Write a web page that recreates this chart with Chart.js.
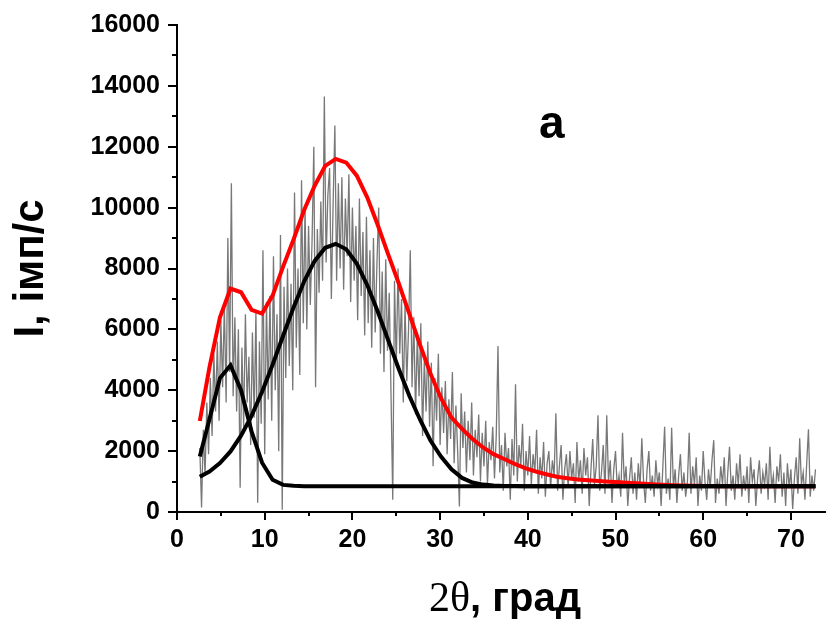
<!DOCTYPE html>
<html>
<head>
<meta charset="utf-8">
<title>XRD 2θ</title>
<script src="https://cdn.jsdelivr.net/npm/chart.js@4.4.1/dist/chart.umd.min.js"></script>
<style>
  html, body { margin: 0; padding: 0; background: #fff; }
  #wrap { position: relative; width: 826px; height: 626px; }
  #xTitle { position: absolute; left: 505px; top: 576px; transform: translateX(-50%); white-space: nowrap; line-height: 42px; color: #000; }
  #xTitle .th { font-family: "Liberation Serif", "Times New Roman", serif; font-size: 42px; }
  #xTitle .gr { font-family: "Liberation Sans", Arial, sans-serif; font-weight: bold; font-size: 40px; }
  #panel { position: absolute; left: 539px; top: 99px; font-family: "Liberation Sans", Arial, sans-serif; font-weight: bold; font-size: 46px; line-height: 46px; color: #000; }
</style>
</head>
<body>
<div id="wrap">
  <canvas id="xrd" width="826" height="626"></canvas>
  <div id="xTitle"><span class="th">2θ</span><span class="gr">, град</span></div>
  <div id="panel">a</div>
</div>
<script>
// === Data ===
// measured pattern, sampled every 0.2° starting at 2.6°
const rawStart = 2.6;
const rawStep = 0.2;
const rawCounts = [
  2100, 150, 2700, 1200, 3600, 1900, 4400, 2500, 5200, 3300,
  5600, 3000, 6300, 4100, 6800, 3600, 9000, 4600, 10800, 3800,
  6400, 3300, 6000, 800, 5400, 2800, 6500, 3600, 5100, 2200,
  5900, 3100, 6600, 300, 5600, 2900, 8600, 1900, 6900, 3700,
  7100, 3000, 8400, 4000, 6500, 2000, 9100, 70, 7400, 4400,
  8000, 4800, 7500, 4000, 10500, 5400, 8000, 4500, 10900, 6200,
  10000, 6000, 9400, 6800, 8900, 12000, 4100, 9300, 7200, 10200,
  7600, 13650, 8200, 10400, 11300, 7000, 10100, 12700, 7600, 10800,
  8000, 11000, 7300, 10300, 8400, 11100, 6900, 10000, 7600, 9400,
  6300, 10300, 7100, 9200, 5800, 9700, 6200, 8600, 5400, 9000,
  5900, 8200, 10000, 5200, 7900, 4600, 8300, 5300, 7200, 3900,
  400, 7600, 4800, 8000, 5200, 7000, 3600, 6800, 4300, 6000,
  8600, 4100, 6400, 3200, 5800, 3800, 6200, 2500, 5000, 3300,
  5600, 2800, 4900, 1500, 4400, 3000, 5200, 2200, 4100, 2600,
  4300, 1900, 3700, 2400, 4600, 1600, 3500, 2000, 180, 3900,
  2100, 3300, 1300, 3000, 1700, 3600, 1200, 2700, 1800, 3200,
  1000, 2600, 1500, 3000, 900, 2300, 1700, 2800, 1100, 2500,
  5450, 1300, 2200, 700, 2600, 1500, 2100, 400, 2400, 1200,
  4200, 1000, 2200, 1500, 2900, 700, 2000, 1200, 2500, 900,
  1900, 1300, 2700, 600, 1800, 1100, 2300, 500, 1600, 2000,
  800, 1700, 1200, 3240, 700, 1500, 2200, 400, 1400, 1900,
  800, 2000, 1100, 1600, 300, 2300, 1000, 1700, 600, 2100,
  1200, 1800, 200, 1400, 2400, 900, 1500, 3180, 700, 1300,
  2200, 600, 3180, 1000, 1700, 300, 1400, 2000, 800, 1200,
  500, 2600, 900, 1500, 200, 1100, 1800, 600, 1300, 400,
  1600, 800, 2420, 1000, 300, 1400, 2000, 700, 1200, 500,
  1700, 900, 1300, 200, 1500, 2800, 600, 1100, 400, 2770,
  800, 1400, 300, 1200, 1900, 700, 1300, 500, 1000, 2600,
  600, 1500, 900, 1800, 200, 1200, 700, 2000, 1000, 400,
  1400, 800, 1700, 2360, 300, 1100, 600, 1500, 900, 1800,
  200, 1300, 2140, 700, 1200, 400, 1600, 900, 1900, 500,
  1200, 700, 1500, 300, 1800, 1000, 1400, 200, 1100, 1700,
  600, 1300, 900, 1600, 400, 2140, 800, 1200, 300, 1500,
  1000, 1900, 500, 1300, 200, 1600, 800, 1400, 100, 1100,
  1800, 600, 2420, 900, 1300, 400, 1600, 2720, 500, 1200,
  700, 1400
];

// fit curves, evaluated on a coarse grid
const fitAngles = [
  2.6, 3.7, 4.9, 6.1, 7.3, 8.5, 9.7, 10.9, 12.1, 13.3,
  14.5, 15.7, 16.9, 18.1, 19.3, 20.5, 21.7, 22.9, 24.1, 25.3,
  26.5, 27.7, 28.9, 30.1, 31.3, 32.5, 33.7, 34.9, 36.1, 37.3,
  38.5, 39.7, 40.9, 42.1, 43.3, 44.5, 45.7, 46.9, 48.1, 49.3,
  50.5, 51.7, 52.9, 54.1, 55.3, 56.5, 57.7, 58.9, 60.1, 62.5,
  64.9, 67.3, 69.7, 72.1, 72.8
];
const fitTotal = [
  2990, 4750, 6400, 7340, 7220, 6640, 6520, 7110, 8060, 8960,
  9920, 10720, 11370, 11600, 11480, 11050, 10330, 9420, 8450, 7500,
  6500, 5500, 4550, 3740, 3100, 2730, 2400, 2120, 1900, 1740,
  1580, 1440, 1330, 1240, 1160, 1110, 1070, 1040, 1015, 995,
  975, 955, 935, 915, 895, 880, 868, 860, 854, 850,
  850, 850, 850, 850, 850
];
const fitPeak1 = [
  1820, 3050, 4400, 4820, 4000, 2650, 1620, 1060, 890, 860,
  850, 850, 850, 850, 850, 850, 850, 850, 850, 850,
  850, 850, 850, 850, 850, 850, 850, 850, 850, 850,
  850, 850, 850, 850, 850, 850, 850, 850, 850, 850,
  850, 850, 850, 850, 850, 850, 850, 850, 850, 850,
  850, 850, 850, 850, 850
];
const fitPeak2 = [
  1160, 1330, 1610, 1990, 2510, 3160, 3950, 4840, 5790, 6730,
  7580, 8250, 8680, 8810, 8630, 8160, 7450, 6580, 5630, 4690,
  3810, 3040, 2350, 1820, 1400, 1120, 970, 900, 870, 858,
  852, 850, 850, 850, 850, 850, 850, 850, 850, 850,
  850, 850, 850, 850, 850, 850, 850, 850, 850, 850,
  850, 850, 850, 850, 850
];

// axes
const xMajorTicks = [0, 10, 20, 30, 40, 50, 60, 70];
const xMinorTicks = [5, 15, 25, 35, 45, 55, 65];
const yMajorTicks = [0, 2000, 4000, 6000, 8000, 10000, 12000, 14000, 16000];
const yMinorTicks = [1000, 3000, 5000, 7000, 9000, 11000, 13000, 15000];

// === Helpers ===
function pairs(xs, ys) {
  return ys.map((y, i) => ({ x: xs[i], y }));
}
const rawAngles = rawCounts.map((_, i) => +(rawStart + i * rawStep).toFixed(1));

// === Tick marks (major + minor, outside) ===
const tickMarks = {
  id: "tickMarks",
  afterDraw(chart) {
    const { ctx, chartArea, scales: { x, y } } = chart;
    ctx.save();
    ctx.strokeStyle = "#000";
    ctx.lineWidth = 2;
    ctx.beginPath();
    const xTick = (v, len) => {
      const px = Math.round(x.getPixelForValue(v));
      ctx.moveTo(px, chartArea.bottom);
      ctx.lineTo(px, chartArea.bottom + len);
    };
    const yTick = (v, len) => {
      const py = Math.round(y.getPixelForValue(v));
      ctx.moveTo(chartArea.left, py);
      ctx.lineTo(chartArea.left - len, py);
    };
    xMajorTicks.forEach(v => xTick(v, 8));
    xMinorTicks.forEach(v => xTick(v, 4));
    yMajorTicks.forEach(v => yTick(v, 9));
    yMinorTicks.forEach(v => yTick(v, 5));
    ctx.stroke();
    ctx.restore();
  }
};

const tickFont = { family: "'Liberation Sans', Arial, sans-serif", weight: "bold", size: 25 };

// === Chart ===
new Chart(document.getElementById("xrd"), {
  type: "line",
  data: {
    datasets: [
      { label: "peak 1", data: pairs(fitAngles, fitPeak1), borderColor: "#000", borderWidth: 4 },
      { label: "peak 2", data: pairs(fitAngles, fitPeak2), borderColor: "#000", borderWidth: 4 },
      { label: "fit", data: pairs(fitAngles, fitTotal), borderColor: "#ff0000", borderWidth: 4 },
      { label: "measured", data: pairs(rawAngles, rawCounts), borderColor: "#787878", borderWidth: 1.3 }
    ]
  },
  options: {
    responsive: false,
    animation: false,
    devicePixelRatio: 1,
    layout: { padding: { top: 25, right: 0, bottom: 0, left: 0 } },
    elements: {
      point: { radius: 0 },
      line: { tension: 0, fill: false }
    },
    plugins: {
      legend: { display: false },
      tooltip: { enabled: false }
    },
    scales: {
      x: {
        type: "linear",
        min: 0,
        max: 74,
        grid: { display: false, drawTicks: false },
        border: { display: true, color: "#000", width: 2 },
        ticks: {
          color: "#000",
          font: tickFont,
          padding: 13,
          maxRotation: 0,
          includeBounds: false,
          callback: v => String(v)
        },
        afterBuildTicks: s => { s.ticks = xMajorTicks.map(v => ({ value: v })); },
        afterFit: s => { s.height = 114; }
      },
      y: {
        min: 0,
        max: 16000,
        grid: { display: false, drawTicks: false },
        border: { display: true, color: "#000", width: 2 },
        ticks: {
          color: "#000",
          font: tickFont,
          padding: 17,
          includeBounds: false,
          callback: v => String(v)
        },
        title: {
          display: true,
          text: "I, імп/с",
          color: "#000",
          font: { family: "'Liberation Sans', Arial, sans-serif", weight: "bold", size: 42 },
          padding: { top: 6, bottom: 0 }
        },
        afterBuildTicks: s => { s.ticks = yMajorTicks.map(v => ({ value: v })); },
        afterFit: s => {
          s.width = 177;
          s.paddingTop = 0;
          s.paddingBottom = 0;
        }
      }
    }
  },
  plugins: [tickMarks]
});
</script>
</body>
</html>
